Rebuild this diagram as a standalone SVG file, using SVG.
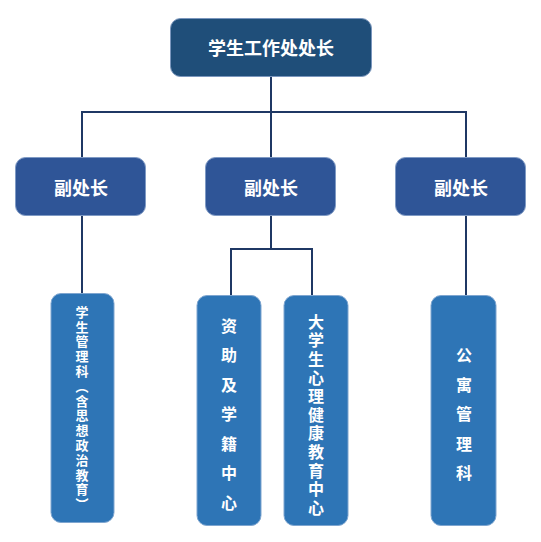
<svg xmlns="http://www.w3.org/2000/svg" width="541" height="542" viewBox="0 0 541 542">
<style>
.l{fill:none;stroke:#1f3864;stroke-width:2}
.b0{fill:#1f4e79;stroke:#7a96bd;stroke-width:1}
.b1{fill:#2f5597;stroke:#7f9ac4;stroke-width:1}
.b2{fill:#2e75b6;stroke:#7fa6d0;stroke-width:1}
text{font-family:"Noto Sans CJK SC","Noto Sans CJK JP",sans-serif;font-weight:bold;fill:#fff;text-anchor:middle}
.h{font-size:18px;dominant-baseline:central}
.v{font-size:16px;writing-mode:vertical-rl}
.s{font-size:13px;writing-mode:vertical-rl;letter-spacing:1.8px}
</style>
<rect width="541" height="542" fill="#fff"/>
<g id="connectors">
<path class="l" d="M271 77V112M82 157V112H466V157M271 112V157"/>
<path class="l" d="M82 216V293"/>
<path class="l" d="M271 216V249M231 295V249H312V295"/>
<path class="l" d="M466 216V295"/>
</g>
<g id="n0"><rect class="b0" x="170.5" y="18.5" width="201" height="58" rx="10"/><text class="h" x="271" y="47">学生工作处处长</text></g>
<g id="n1"><rect class="b1" x="15.5" y="157.5" width="130" height="58" rx="10"/><text class="h" x="81" y="187">副处长</text></g>
<g id="n2"><rect class="b1" x="205.5" y="157.5" width="130" height="58" rx="10"/><text class="h" x="271" y="187">副处长</text></g>
<g id="n3"><rect class="b1" x="395.5" y="157.5" width="130" height="58" rx="10"/><text class="h" x="461" y="187">副处长</text></g>
<g id="n4"><rect class="b2" x="51" y="293.5" width="63" height="229" rx="10"/>
<text class="s" x="82" y="409">学生管理科（含思想政治教育）</text></g>
<g id="n5"><rect class="b2" x="197" y="295.5" width="64" height="230" rx="10"/>
<text class="v" x="229" y="421" style="letter-spacing:13.5px">资助及学籍中心</text></g>
<g id="n6"><rect class="b2" x="284" y="295.5" width="64" height="230" rx="10"/>
<text class="v" x="316" y="416" style="letter-spacing:2.6px">大学生心理健康教育中心</text></g>
<g id="n7"><rect class="b2" x="431" y="295.5" width="65" height="230" rx="10"/>
<text class="v" x="464" y="421" style="letter-spacing:13.5px">公寓管理科</text></g>
</svg>
